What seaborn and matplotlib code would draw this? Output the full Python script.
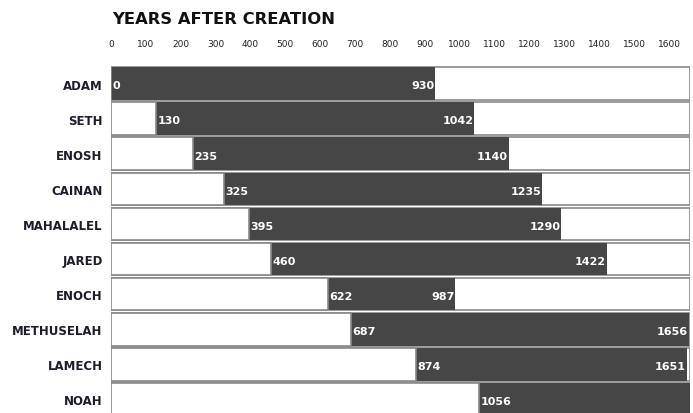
import matplotlib
matplotlib.use("Agg")
import matplotlib.pyplot as plt
import seaborn as sns
import pandas as pd
from matplotlib import font_manager

names = ["ADAM", "SETH", "ENOSH", "CAINAN", "MAHALALEL", "JARED", "ENOCH",
         "METHUSELAH", "LAMECH", "NOAH"]
born = [0, 130, 235, 325, 395, 460, 622, 687, 874, 1056]
died = [930, 1042, 1140, 1235, 1290, 1422, 987, 1656, 1651, 2006]
ticks = list(range(0, 1700, 100))
title = "YEARS AFTER CREATION"
xmax = 1660

sns.set_theme(style="white")
avail = {f.name for f in font_manager.fontManager.ttflist}
cond = "Liberation Sans Narrow" if "Liberation Sans Narrow" in avail else "DejaVu Sans"
plt.rcParams["font.family"] = [cond, "DejaVu Sans"]

df = pd.DataFrame({"name": names, "born": born, "died": died, "full": [xmax] * len(names)})

fig = plt.figure(figsize=(6.93, 4.14), dpi=100)
ax = fig.add_axes([111 / 693, -4 / 414, (690 - 111) / 693, (418 - 67) / 414])

W = 0.93
sns.barplot(data=df, y="name", x="full", orient="h", color="white", edgecolor="#8a8a8a",
            linewidth=1.2, width=W, ax=ax, zorder=1)
sns.barplot(data=df, y="name", x="died", orient="h", color="#464646", edgecolor="none",
            linewidth=0, width=W, ax=ax, saturation=1, zorder=2)
sns.barplot(data=df, y="name", x="born", orient="h", color="white", edgecolor="#8a8a8a",
            linewidth=1.2, width=W, ax=ax, saturation=1, zorder=3)

ax.set_xlim(0, xmax)
ax.set_ylim(9.5, -0.5)
ax.set_xlabel("")
ax.set_ylabel("")
for s in ax.spines.values():
    s.set_visible(False)

ax.xaxis.tick_top()
ax.set_xticks(ticks)
ax.set_xticklabels([str(t) for t in ticks], fontsize=6.5, color="#222222")
ax.tick_params(axis="x", length=0, pad=13)
ax.tick_params(axis="y", length=0, pad=6)
for lab in ax.get_yticklabels():
    lab.set_fontsize(8.5)
    lab.set_fontweight("bold")
    lab.set_color("#1c1c2a")

for i, (b, d) in enumerate(zip(born, died)):
    ax.text(b + 4, i + 0.05, str(b), ha="left", va="center", color="white",
            fontsize=8, fontweight="bold", zorder=5)
    if d <= xmax:
        ax.text(d - 2, i + 0.05, str(d), ha="right", va="center", color="white",
                fontsize=8, fontweight="bold", zorder=5)

fig.text(112 / 693, 1 - 20 / 414, title, ha="left", va="center", fontsize=11.8,
         fontweight="heavy", family="DejaVu Sans", color="#111111")

fig.savefig("out.png", dpi=100)
